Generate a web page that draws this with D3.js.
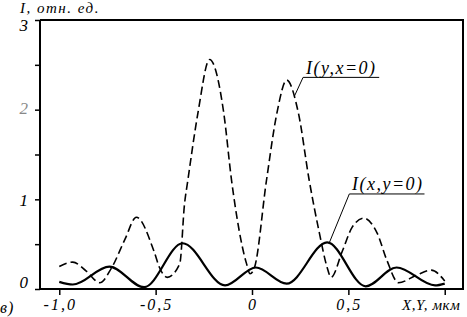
<!DOCTYPE html>
<html>
<head>
<meta charset="utf-8">
<script src="https://cdn.jsdelivr.net/npm/d3@7"></script>
<style>
  body { margin: 0; background: #fff; }
</style>
</head>
<body>
<script>
// I(x, y=0) - solid curve
const solidX = [-1.0, -0.93, -0.74, -0.56, -0.36, -0.14, 0.02, 0.18, 0.39, 0.59, 0.75, 0.95, 1.0];
const solidY = [0.08, 0.05, 0.25, 0.02, 0.51, 0.04, 0.24, 0.06, 0.52, 0.03, 0.24, 0.04, 0.06];

// I(y, x=0) - dashed curve
const dashX = [-1.0, -0.93, -0.86, -0.79, -0.73, -0.66, -0.60, -0.51, -0.48, -0.44, -0.375, -0.35, -0.333, -0.28, -0.22,
               -0.147, -0.106, -0.028, -0.01, 0.013, 0.075, 0.13, 0.18, 0.24, 0.297, 0.35, 0.39, 0.41, 0.47, 0.52, 0.58,
               0.65, 0.70, 0.76, 0.85, 0.93, 1.0];
const dashY = [0.25, 0.30, 0.20, 0.07, 0.23, 0.55, 0.80, 0.43, 0.24, 0.13, 0.28, 0.95, 1.21, 1.97, 2.56,
               1.97, 1.21, 0.28, 0.17, 0.24, 1.21, 1.97, 2.33, 1.97, 1.21, 0.62, 0.24, 0.13, 0.43, 0.69, 0.79,
               0.62, 0.32, 0.07, 0.15, 0.21, 0.09];

const xTicks = [-1.0, -0.5, 0, 0.5];
const xTickLabels = ["-1,0", "-0,5", "0", "0,5"];
const yTicks = [0, 1, 2, 3];
const yTickLabels = ["0", "1", "2", "3"];

const width = 467, height = 317;
const margin = {top: 20, right: 3, bottom: 28, left: 40};
const serif = '"Liberation Serif", "Times New Roman", serif';

const svg = d3.select("body").append("svg")
  .attr("width", width)
  .attr("height", height);

const x = d3.scaleLinear().domain([-1.1, 1.1]).range([margin.left, width - margin.right]);
const y = d3.scaleLinear().domain([0, 3]).range([height - margin.bottom, margin.top]);

function label(px, py, txt, size, anchor, spacing) {
  return svg.append("text")
    .attr("x", px).attr("y", py)
    .attr("text-anchor", anchor || "start")
    .attr("font-size", size)
    .attr("font-family", serif)
    .attr("font-style", "italic")
    .attr("letter-spacing", spacing || 0)
    .attr("fill", "#000")
    .text(txt);
}

// frame (top + right)
svg.append("path")
  .attr("d", `M${x(-1.1)},${y(3)}H${x(1.1) - 1}V${y(0)}`)
  .attr("fill", "none").attr("stroke", "#000").attr("stroke-width", 2);

// x axis
const xAxis = svg.append("g")
  .attr("transform", `translate(0,${y(0)})`)
  .call(d3.axisBottom(x).tickValues([-1, -0.5, 0, 0.5, 1]).tickSize(6).tickFormat(""));
xAxis.select(".domain").attr("stroke-width", 2).attr("d", `M${x(-1.1)},0H${x(1.1)}`);
xAxis.selectAll(".tick line").attr("stroke-width", 1.5);

xTicks.forEach((t, i) => label(x(t) + 1, 310, xTickLabels[i], 16, "middle", 2));
label(402, 310, "X,Y, мкм", 15, "start", 0.6);
label(0, 313, "в)", 16, "start", 1);

// y axis
const yAxis = svg.append("g")
  .attr("transform", `translate(${x(-1.1)},0)`)
  .call(d3.axisLeft(y).tickValues(d3.range(0, 3.01, 0.5)).tickSize(5).tickFormat(""));
yAxis.select(".domain").attr("stroke-width", 2).attr("d", `M0,${y(0)}V${y(3)}`);
yAxis.selectAll(".tick line").attr("stroke-width", 1.5);

const yLabelShift = [-1, 7, 4, 11];
yTicks.forEach((t, i) => {
  label(28, y(t) + yLabelShift[i], yTickLabels[i], 17, "end")
    .attr("fill", t === 2 ? "#888" : "#000");
});
label(20, 13, "I, отн. ед.", 15, "start", 1.5);

// curves
const line = d3.line()
  .x(d => x(d[0]))
  .y(d => y(d[1]))
  .curve(d3.curveMonotoneX);

svg.append("path")
  .datum(dashX.map((v, i) => [v, dashY[i]]))
  .attr("d", line)
  .attr("fill", "none")
  .attr("stroke", "#000")
  .attr("stroke-width", 1.6)
  .attr("stroke-dasharray", "8,4");

svg.append("path")
  .datum(solidX.map((v, i) => [v, solidY[i]]))
  .attr("d", line)
  .attr("fill", "none")
  .attr("stroke", "#000")
  .attr("stroke-width", 2.2);

// leader lines and curve labels
svg.append("path")
  .attr("d", `M${x(0.22)},${y(2.15)}L${x(0.265)},${y(2.36)}H${x(0.66)}`)
  .attr("fill", "none").attr("stroke", "#000").attr("stroke-width", 1);
label(306, 74, "I(y,x=0)", 18, "start", 1.5);

svg.append("path")
  .attr("d", `M${x(0.40)},${y(0.51)}L${x(0.505)},${y(1.06)}H${x(0.895)}`)
  .attr("fill", "none").attr("stroke", "#000").attr("stroke-width", 1);
label(352, 190, "I(x,y=0)", 18, "start", 1.5);
</script>
</body>
</html>
